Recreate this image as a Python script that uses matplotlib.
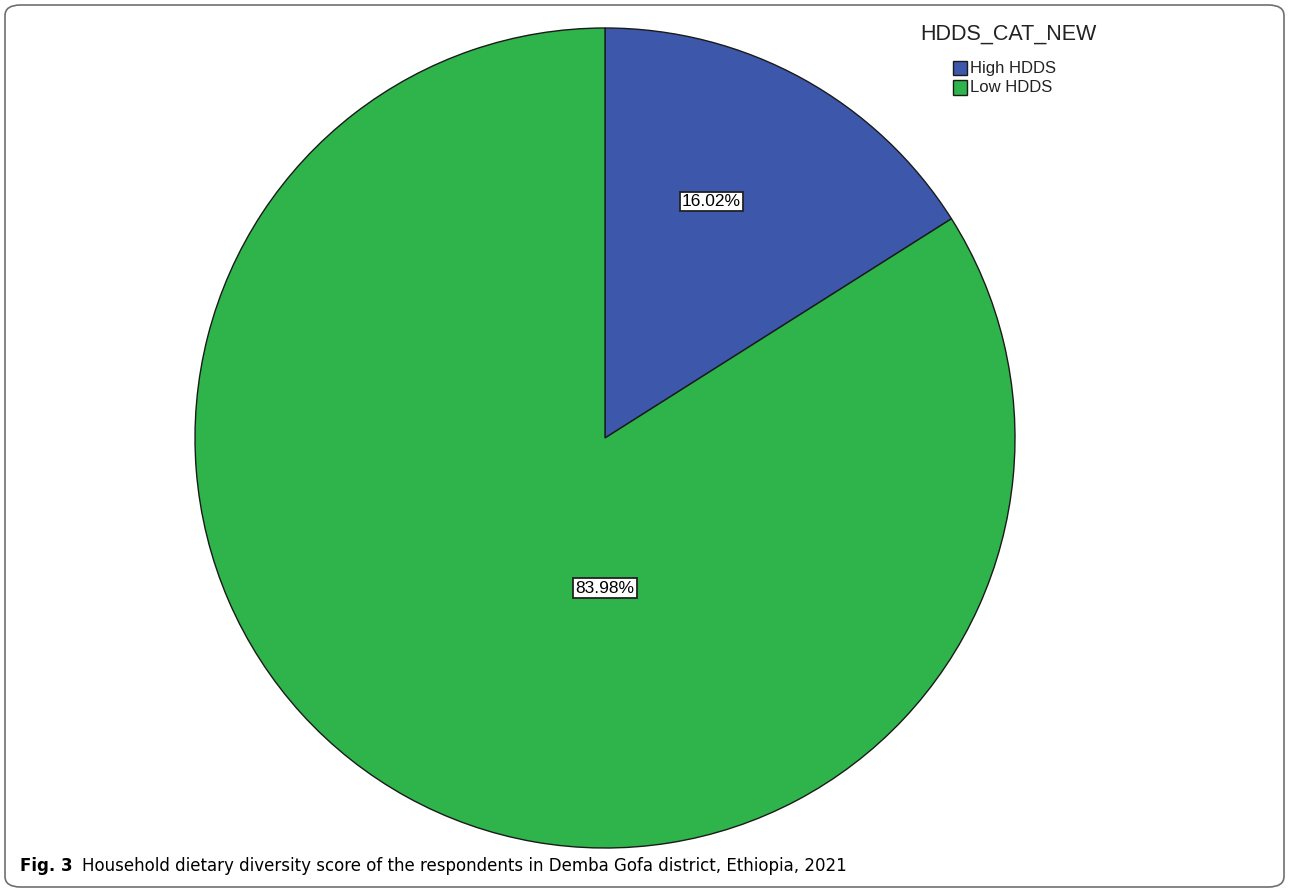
import matplotlib
matplotlib.use("Agg")
import matplotlib.pyplot as plt
from matplotlib.patches import FancyBboxPatch, Rectangle

categories = ["High HDDS", "Low HDDS"]
shares = [16.02, 83.98]
colors = ["#3d57aa", "#2eb44a"]
legend_title = "HDDS_CAT_NEW"
caption_bold = "Fig. 3"
caption_text = "Household dietary diversity score of the respondents in Demba Gofa district, Ethiopia, 2021"

W, H = 1290, 891
fig = plt.figure(figsize=(W / 100, H / 100), dpi=100)

# rounded frame around the whole figure
frame = FancyBboxPatch((5 / W, 4 / H), 1279 / W, 882 / H,
                       boxstyle="round,pad=0,rounding_size=0.012",
                       transform=fig.transFigure, fill=False,
                       edgecolor="#6f6f6f", linewidth=1.2)
fig.patches.append(frame)

# pie axes: center (605, 438) px, radius 410 px
cx, cy, r = 605, 438, 410
ax = fig.add_axes([(cx - r) / W, (H - cy - r) / H, 2 * r / W, 2 * r / H])
wedges, _ = ax.pie(shares, colors=colors, startangle=90, counterclock=False,
                   wedgeprops=dict(edgecolor="#1a1a1a", linewidth=1.0))
ax.set_xlim(-1, 1)
ax.set_ylim(-1, 1)
ax.set_aspect("equal")
ax.axis("off")

label_pos = [(0.26, 0.577), (0.0, -0.366)]
for (x, y), v in zip(label_pos, shares):
    ax.text(x, y, f"{v:.2f}%", ha="center", va="center", fontsize=12.5,
            family="Liberation Sans",
            bbox=dict(boxstyle="square,pad=0.12", facecolor="white",
                      edgecolor="#222222", linewidth=1.3))

# legend
fig.text(1008 / W, 1 - 34 / H, legend_title, ha="center", va="center",
         fontsize=15.5, family="Liberation Sans", color="#222222")
for i, (name, c) in enumerate(zip(categories, colors)):
    y = 68 + i * 19.5
    fig.patches.append(Rectangle((953 / W, 1 - (y + 7) / H), 14 / W, 14 / H,
                                 transform=fig.transFigure, facecolor=c,
                                 edgecolor="#1a1a1a", linewidth=1.0))
    fig.text(970 / W, 1 - y / H, name, ha="left", va="center",
             fontsize=12, family="Liberation Sans", color="#222222")

# caption
cap_font = ["DejaVu Sans"]
t = fig.text(20 / W, 1 - 866 / H, caption_bold, ha="left", va="center",
             fontsize=12, fontweight="bold", family=cap_font)
fig.canvas.draw()
bb = t.get_window_extent()
fig.text((bb.x1 + 9) / W, 1 - 866 / H, caption_text, ha="left", va="center",
         fontsize=12, family=cap_font)

fig.savefig("out.png", dpi=100)
